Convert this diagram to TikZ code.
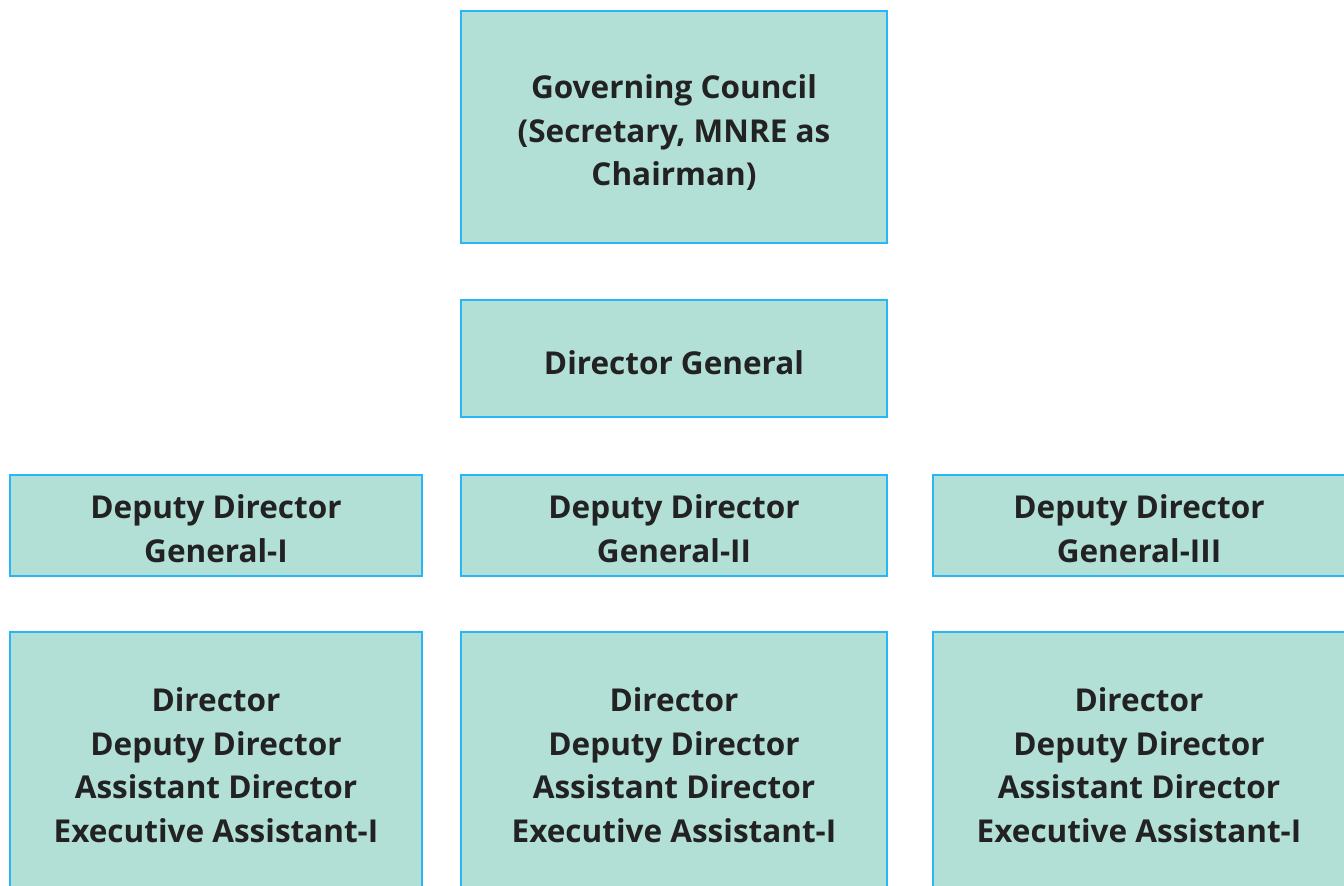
\documentclass[tikz,border=0pt]{standalone}
\usepackage{fontspec}
\setmainfont{Open Sans}
\definecolor{boxfill}{RGB}{178,223,214}
\definecolor{boxline}{RGB}{41,182,246}
\definecolor{boxtext}{RGB}{34,34,34}

\tikzset{
  orgbox/.style={draw=boxline, line width=2pt, fill=boxfill,
    anchor=north west, inner sep=0pt},
  orgtext/.style={text=boxtext, align=center, inner sep=0pt,
    font=\fontsize{31.5}{43.5}\selectfont\bfseries},
}

\begin{document}
\begin{tikzpicture}[x=1pt, y=-1pt]
  \useasboundingbox (0,0) rectangle (1344,886);

  % top of the chart
  \node[orgbox, minimum width=426pt, minimum height=232pt] (gc) at (460,10) {};
  \node[orgtext] (gc-txt) at ([yshift=-6pt]gc.center)
    {Governing Council\\(Secretary, MNRE as\\Chairman)};
  \node[orgbox, minimum width=426pt, minimum height=117pt] (dg) at (460,299) {};
  \node[orgtext] (dg-txt) at ([yshift=-4pt]dg.center) {Director General};

  % deputy directors general
  \node[orgbox, minimum width=412pt, minimum height=101pt] (ddg1) at (9,474) {};
  \node[orgbox, minimum width=426pt, minimum height=101pt] (ddg2) at (460,474) {};
  \node[orgbox, minimum width=412pt, minimum height=101pt] (ddg3) at (932,474) {};
  \node[orgtext] (ddg1-txt) at ([yshift=-3pt]ddg1.center) {Deputy Director\\General-I};
  \node[orgtext] (ddg2-txt) at ([yshift=-3pt]ddg2.center) {Deputy Director\\General-II};
  \node[orgtext] (ddg3-txt) at ([yshift=-3pt]ddg3.center) {Deputy Director\\General-III};

  % staff under each division
  \foreach \i/\x/\w in {1/9/412, 2/460/426, 3/932/412} {
    \node[orgbox, minimum width=\w pt, minimum height=266pt] (dir\i) at (\x,631) {};
    \node[orgtext] (dir\i-txt) at (dir\i.center)
      {Director\\Deputy Director\\Assistant Director\\Executive Assistant-I};
  }
\end{tikzpicture}
\end{document}
